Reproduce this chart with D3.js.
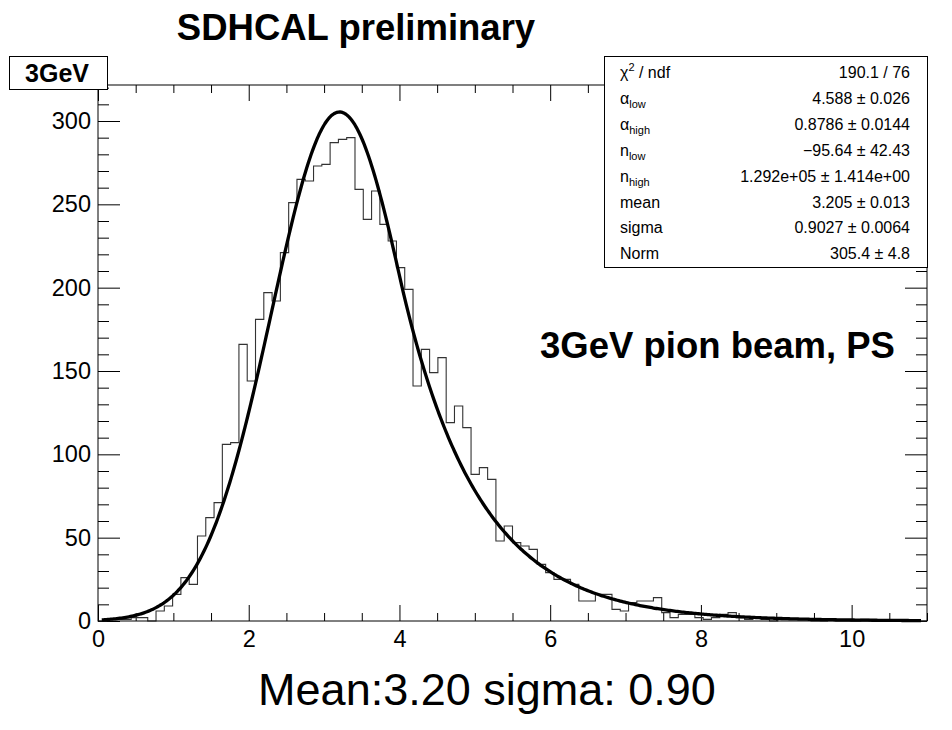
<!DOCTYPE html>
<html>
<head>
<meta charset="utf-8">
<script src="https://cdn.jsdelivr.net/npm/d3@7"></script>
<style>
  body { margin: 0; background: #fff; }
  svg { display: block; }
  text { font-family: "Liberation Sans", Arial, Helvetica, sans-serif; fill: #000; }
</style>
</head>
<body>
<svg id="chart" width="952" height="730"></svg>
<script>
// histogram: 100 bins from 0 to 11
const xRange = [0, 11];
const counts = [
  0, 1, 1, 1, 2, 2, 0, 6, 9, 16,
  26, 22, 51, 62, 71, 106, 107, 166, 144, 181,
  197, 192, 221, 251, 265, 264, 273, 274, 287, 289,
  290, 259, 241, 258, 238, 228, 212, 199, 141, 163,
  149, 158, 119, 129, 116, 88, 92, 85, 48, 57,
  47, 45, 43, 34, 29, 25, 25, 22, 12, 12,
  16, 16, 7, 6, 11, 12, 12, 14, 5, 2,
  4, 4, 2, 1, 2, 4, 5, 2, 1, 2,
  1, 0, 1, 1, 1, 1, 0, 0, 1, 0,
  0, 0, 1, 0, 0, 0, 0, 0, 0, 0
];

// double sided crystal ball fit parameters (from the stats box)
const alphaLow = 4.588, alphaHigh = 0.8786;
const nLow = -95.64, nHigh = 1.292e5;
const fitMean = 3.205, fitSigma = 0.9027, fitNorm = 305.4;
const fitRange = [0.05, 10.92];

const xTicks = [0, 2, 4, 6, 8, 10];
const yTicks = [0, 50, 100, 150, 200, 250, 300];
const yMax = 321.6;

// stats box rows: [symbol, subscript, superscript, rest], value
const statLabels = [
  ["χ", "", "2", " / ndf"],
  ["α", "low", "", ""],
  ["α", "high", "", ""],
  ["n", "low", "", ""],
  ["n", "high", "", ""],
  ["mean", "", "", ""],
  ["sigma", "", "", ""],
  ["Norm", "", "", ""]
];
const statValues = [
  "190.1 / 76",
  "4.588 ± 0.026",
  "0.8786 ± 0.0144",
  "−95.64 ± 42.43",
  "1.292e+05 ± 1.414e+00",
  "3.205 ± 0.013",
  "0.9027 ± 0.0064",
  "305.4 ± 4.8"
];

const svg = d3.select("#chart");
const fx0 = 98, fx1 = 927, fy0 = 85, fy1 = 621;
const x = d3.scaleLinear().domain(xRange).range([fx0, fx1]);
const y = d3.scaleLinear().domain([0, yMax]).range([fy1, fy0]);

function dscb(v){
  const t = (v - fitMean) / fitSigma;
  if (t < -alphaLow) return fitNorm * Math.exp(-0.5*alphaLow*alphaLow) * Math.pow(alphaLow/nLow*(nLow/alphaLow - alphaLow - t), -nLow);
  if (t > alphaHigh) return fitNorm * Math.exp(-0.5*alphaHigh*alphaHigh) * Math.pow(alphaHigh/nHigh*(nHigh/alphaHigh - alphaHigh + t), -nHigh);
  return fitNorm * Math.exp(-0.5*t*t);
}

/* ---- ticks (ROOT style, pointing inward on all four sides) ---- */
const xMinor = d3.range(0, 11.001, 0.5).filter(v => v % 2 !== 0);
const yMinor = d3.range(0, 320.01, 10).filter(v => v % 50 !== 0);
const fontTick = 23.5;

function styleAxis(g){ g.select(".domain").remove(); g.selectAll("line").attr("stroke", "#000"); }

svg.append("g").attr("transform", `translate(0,${fy1})`)
  .call(d3.axisBottom(x).tickValues(xTicks).tickSize(-16).tickPadding(9).tickFormat(d3.format("d")))
  .call(styleAxis)
  .call(g => g.selectAll("text").attr("font-size", fontTick).attr("font-family", null));
svg.append("g").attr("transform", `translate(0,${fy1})`)
  .call(d3.axisBottom(x).tickValues(xMinor).tickSize(-8).tickFormat(""))
  .call(styleAxis);
svg.append("g").attr("transform", `translate(0,${fy0})`)
  .call(d3.axisTop(x).tickValues(xTicks).tickSize(-16).tickFormat(""))
  .call(styleAxis);
svg.append("g").attr("transform", `translate(0,${fy0})`)
  .call(d3.axisTop(x).tickValues(xMinor).tickSize(-8).tickFormat(""))
  .call(styleAxis);

svg.append("g").attr("transform", `translate(${fx0},0)`)
  .call(d3.axisLeft(y).tickValues(yTicks).tickSize(-22).tickPadding(7).tickFormat(d3.format("d")))
  .call(styleAxis)
  .call(g => g.selectAll("text").attr("font-size", fontTick).attr("font-family", null));
svg.append("g").attr("transform", `translate(${fx0},0)`)
  .call(d3.axisLeft(y).tickValues(yMinor).tickSize(-11).tickFormat(""))
  .call(styleAxis);
svg.append("g").attr("transform", `translate(${fx1},0)`)
  .call(d3.axisRight(y).tickValues(yTicks).tickSize(-22).tickFormat(""))
  .call(styleAxis);
svg.append("g").attr("transform", `translate(${fx1},0)`)
  .call(d3.axisRight(y).tickValues(yMinor).tickSize(-11).tickFormat(""))
  .call(styleAxis);

/* ---- histogram outline ---- */
const binW = (xRange[1] - xRange[0]) / counts.length;
const histPts = counts.map((c, i) => [xRange[0] + i*binW, c]);
histPts.push([xRange[1], counts[counts.length - 1]]);
svg.append("path")
  .attr("d", d3.line().x(d => x(d[0])).y(d => y(d[1])).curve(d3.curveStepAfter)(histPts))
  .attr("fill", "none").attr("stroke", "#333").attr("stroke-width", 1.1);

/* ---- fit curve ---- */
const fitPts = d3.range(fitRange[0], fitRange[1], 0.02).concat([fitRange[1]]).map(v => [v, dscb(v)]);
svg.append("path")
  .attr("d", d3.line().x(d => x(d[0])).y(d => y(d[1]))(fitPts))
  .attr("fill", "none").attr("stroke", "#000").attr("stroke-width", 3.3)
  .attr("stroke-linejoin", "round");

/* ---- frame ---- */
svg.append("rect").attr("x", fx0).attr("y", fy0).attr("width", fx1 - fx0).attr("height", fy1 - fy0)
  .attr("fill", "none").attr("stroke", "#000").attr("stroke-width", 1);

/* ---- title box ---- */
svg.append("rect").attr("x", 9.5).attr("y", 56.5).attr("width", 98).attr("height", 33)
  .attr("fill", "#fff").attr("stroke", "#000").attr("stroke-width", 1);
svg.append("text").attr("x", 57).attr("y", 82).attr("text-anchor", "middle")
  .attr("font-size", 25).attr("font-weight", "bold").text("3GeV");

/* ---- stats box ---- */
const sb = { x: 604.5, y: 56.5, w: 323, h: 211 };
svg.append("rect").attr("x", sb.x).attr("y", sb.y).attr("width", sb.w).attr("height", sb.h)
  .attr("fill", "#fff").attr("stroke", "#000").attr("stroke-width", 1);
const rowH = 25.9, base0 = 78;
statLabels.forEach((lab, i) => {
  const by = base0 + i*rowH;
  const t = svg.append("text").attr("x", 620).attr("y", by).attr("font-size", 16);
  t.append("tspan").text(lab[0]);
  if (lab[1]) t.append("tspan").attr("font-size", 11).attr("dy", 4).text(lab[1]);
  if (lab[2]) t.append("tspan").attr("font-size", 11).attr("dy", -7).text(lab[2]);
  if (lab[3]) t.append("tspan").attr("dy", lab[2] ? 7 : 0).text(lab[3]);
  svg.append("text").attr("x", 910).attr("y", by).attr("font-size", 16)
    .attr("text-anchor", "end").text(statValues[i]);
});

/* ---- annotations ---- */
svg.append("text").attr("x", 356).attr("y", 40).attr("text-anchor", "middle")
  .attr("font-size", 36.5).attr("font-weight", "bold").text("SDHCAL preliminary");
svg.append("text").attr("x", 540).attr("y", 358)
  .attr("font-size", 36.5).attr("font-weight", "bold").text("3GeV pion beam, PS");
svg.append("text").attr("x", 487).attr("y", 705).attr("text-anchor", "middle")
  .attr("font-size", 45).text("Mean:3.20 sigma: 0.90");
</script>
</body>
</html>
